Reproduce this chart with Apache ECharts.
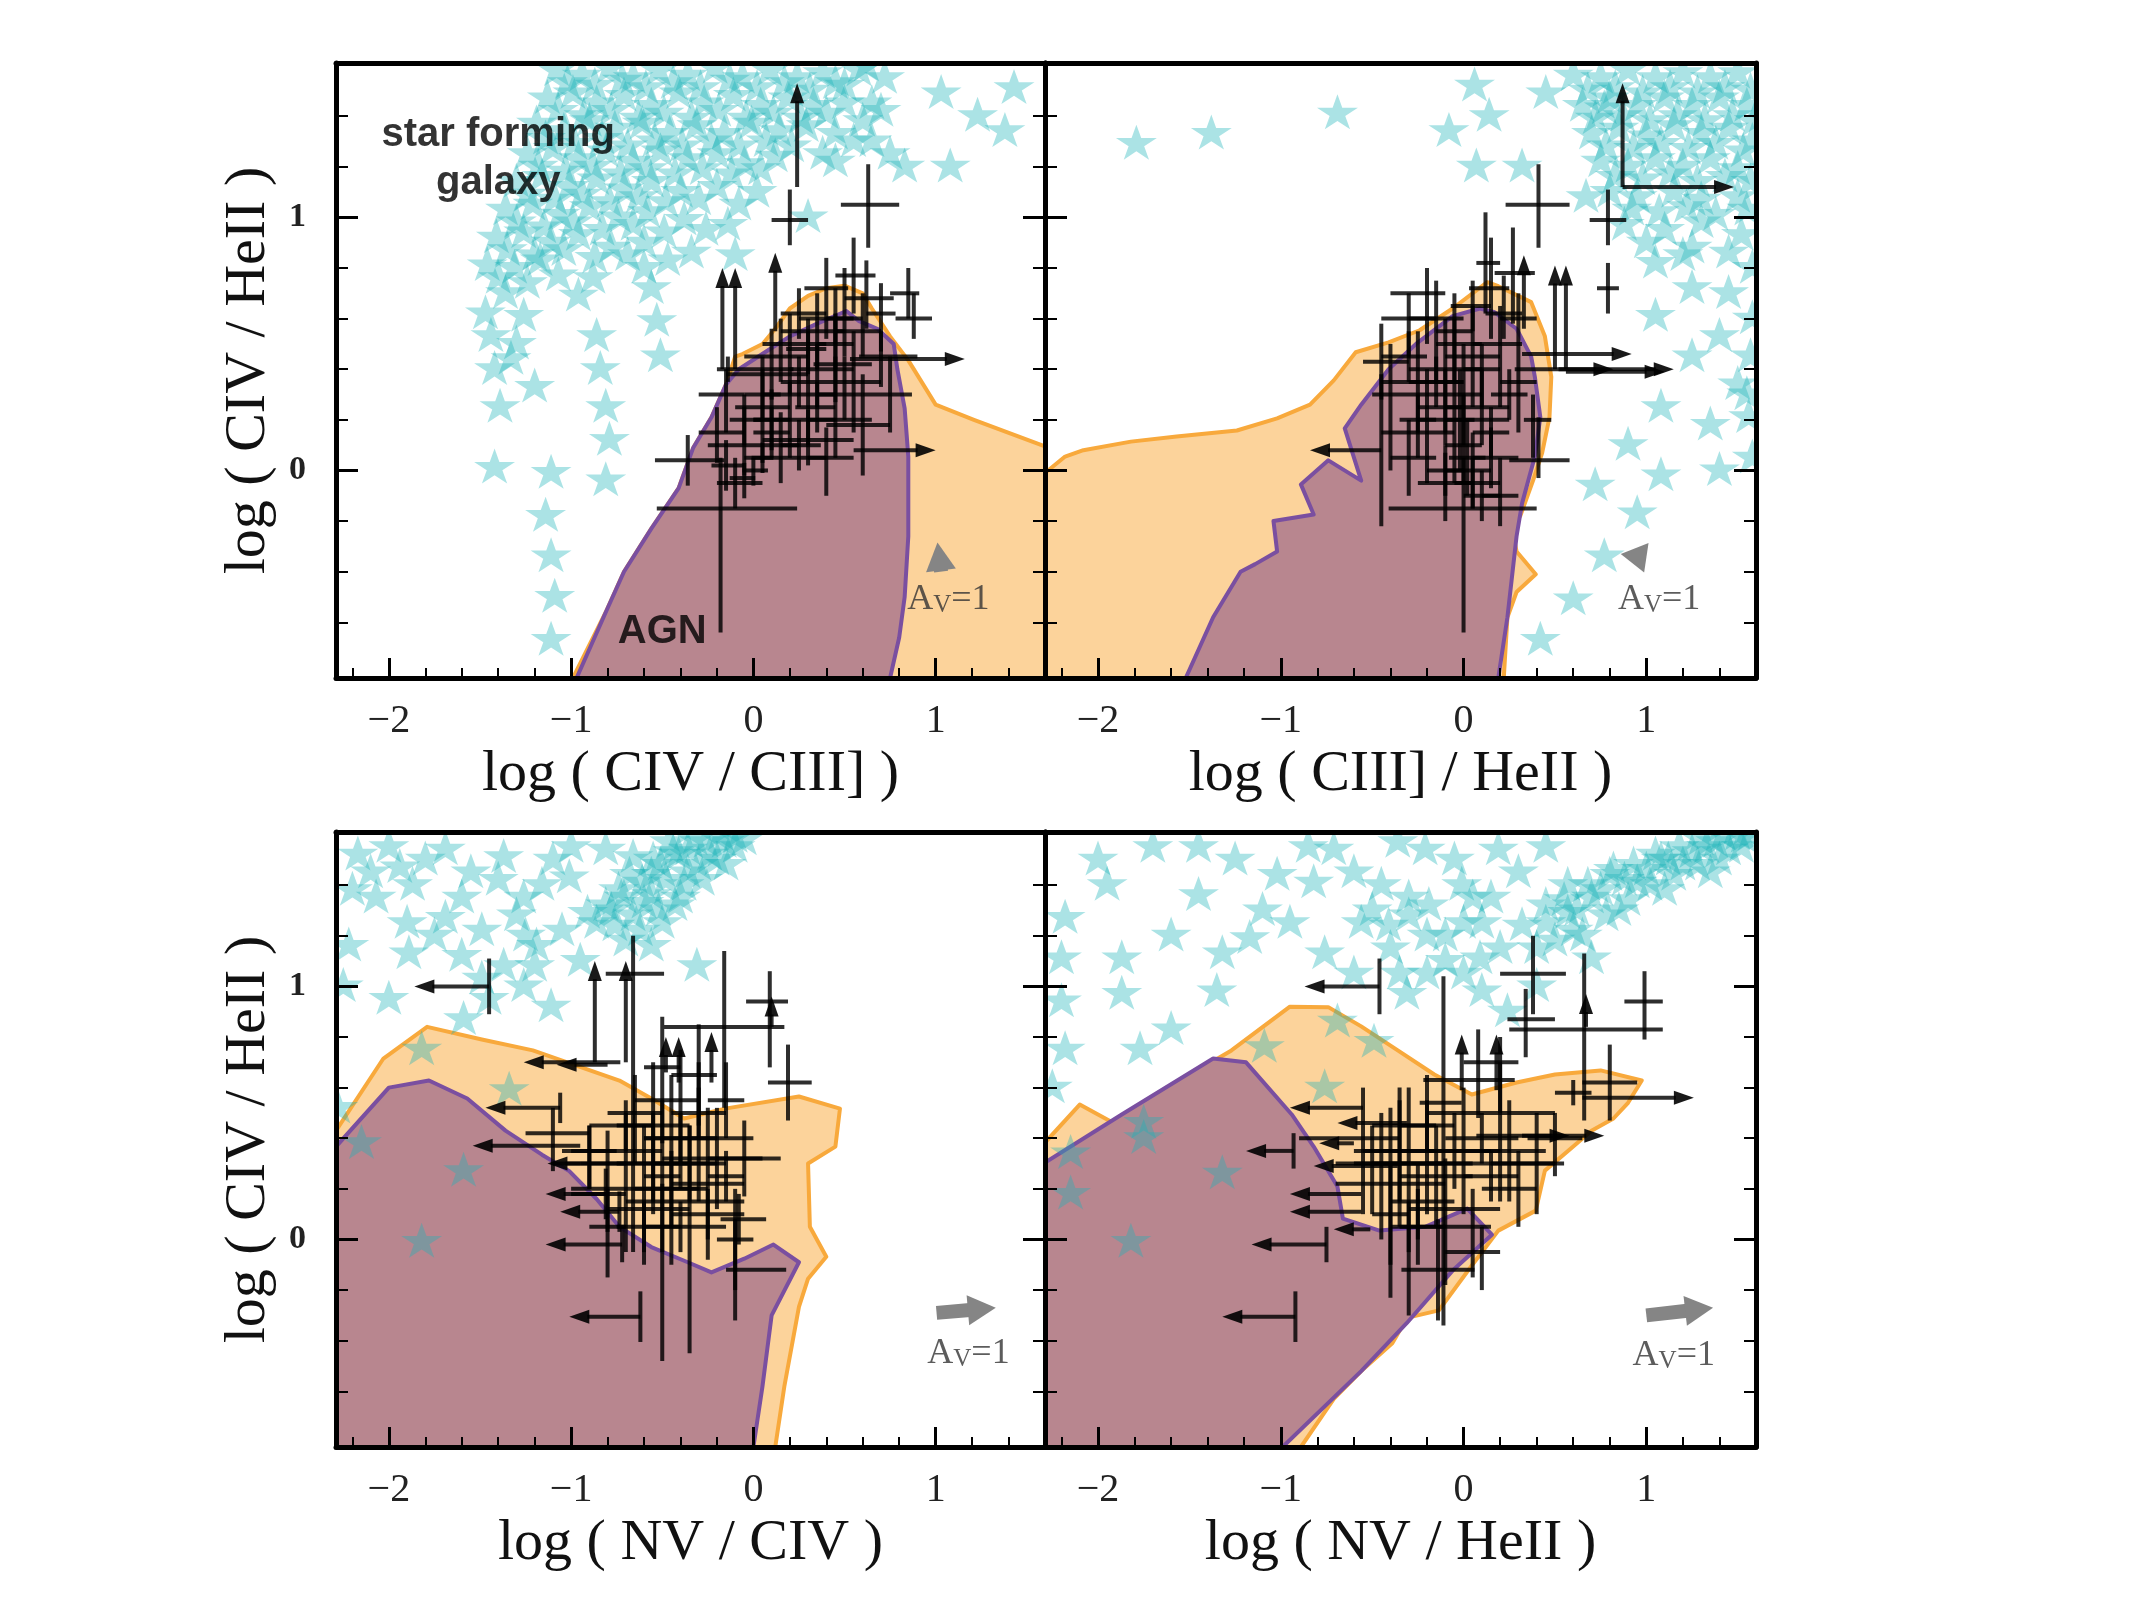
<!DOCTYPE html>
<html>
<head>
<meta charset="utf-8">
<script src="https://cdn.jsdelivr.net/npm/echarts@6/dist/echarts.min.js"></script>
<style>
  html, body { margin: 0; background: #fff; }
  #chart { width: 2134px; height: 1600px; }
</style>
</head>
<body>
<div id="chart"></div>
<script>
// axis extents and tick values (all four panels share them)
const xRange = [-2.29, 1.6]
const yRange = [-0.82, 1.61]
const xMajor = [-2, -1, 0, 1]
const xMinor = [-2.2, -2.0, -1.8, -1.6, -1.4, -1.2, -1.0, -0.8, -0.6, -0.4, -0.2, 0, 0.2, 0.4, 0.6, 0.8, 1.0, 1.2, 1.4]
const yMajor = [0, 1]
const yMinor = [-0.6, -0.4, -0.2, 0, 0.2, 0.4, 0.6, 0.8, 1.0, 1.2, 1.4]

// ---------- panel 1 : log(CIV/CIII]) vs log(CIV/HeII) ----------
const orangeCivCiii = [[-0.99, -0.82], [-0.81, -0.56], [-0.71, -0.4], [-0.56, -0.23], [-0.41, -0.07], [-0.33, 0.09], [-0.23, 0.21], [-0.15, 0.34], [-0.1, 0.45], [-0.06, 0.46], [0.05, 0.5], [0.12, 0.56], [0.2, 0.64], [0.3, 0.69], [0.4, 0.72], [0.5, 0.73], [0.6, 0.7], [0.65, 0.64], [0.75, 0.53], [0.85, 0.435], [1.0, 0.26], [1.21, 0.2], [1.6, 0.095], [1.6, -0.82]]
const purpleCivCiii = [[-0.97, -0.82], [-0.81, -0.56], [-0.71, -0.4], [-0.56, -0.23], [-0.41, -0.07], [-0.33, 0.09], [-0.23, 0.21], [-0.15, 0.34], [-0.08, 0.4], [0.07, 0.47], [0.2, 0.53], [0.35, 0.58], [0.51, 0.63], [0.58, 0.59], [0.68, 0.56], [0.77, 0.5], [0.79, 0.4], [0.83, 0.245], [0.85, 0.055], [0.85, -0.26], [0.83, -0.5], [0.8, -0.66], [0.75, -0.82]]
const starsCivCiii = [
  [-1.08, 1.58], [-0.94, 1.56], [-0.79, 1.59], [-0.66, 1.55], [-0.52, 1.58], [-0.36, 1.56], [-0.21, 1.59], [-0.06, 1.55], [0.09, 1.58], [0.24, 1.55], [0.38, 1.57],
  [-1.02, 1.53], [-0.87, 1.52], [-0.72, 1.54], [-0.59, 1.51], [-0.44, 1.53], [-0.29, 1.51], [-0.13, 1.54], [0.02, 1.51], [0.17, 1.53], [0.31, 1.5], [0.45, 1.53],
  [-1.13, 1.47], [-0.99, 1.49], [-0.86, 1.45], [-0.71, 1.48], [-0.56, 1.44], [-0.41, 1.49], [-0.27, 1.45], [-0.11, 1.48], [0.04, 1.44], [0.19, 1.47], [0.33, 1.44],
  [-1.07, 1.42], [-0.93, 1.4], [-0.78, 1.42], [-0.63, 1.39], [-0.49, 1.41], [-0.34, 1.39], [-0.19, 1.42], [-0.04, 1.39], [0.11, 1.41], [0.26, 1.39], [0.4, 1.41],
  [-1.19, 1.37], [-1.04, 1.34], [-0.9, 1.38], [-0.76, 1.35], [-0.61, 1.37], [-0.46, 1.33], [-0.31, 1.36], [-0.16, 1.33], [-0.01, 1.37], [0.14, 1.34], [0.29, 1.36],
  [-1.14, 1.31], [-0.98, 1.29], [-0.83, 1.31], [-0.69, 1.28], [-0.54, 1.3], [-0.39, 1.28], [-0.23, 1.3], [-0.08, 1.28], [0.07, 1.3], [0.21, 1.28],
  [-1.24, 1.25], [-1.1, 1.27], [-0.96, 1.23], [-0.81, 1.26], [-0.66, 1.22], [-0.51, 1.26], [-0.36, 1.23], [-0.2, 1.25], [-0.05, 1.21], [0.12, 1.24],
  [-1.18, 1.2], [-1.03, 1.18], [-0.88, 1.2], [-0.73, 1.17], [-0.58, 1.19], [-0.43, 1.17], [-0.28, 1.19], [-0.12, 1.17], [0.04, 1.19],
  [-1.3, 1.14], [-1.16, 1.16], [-1.01, 1.12], [-0.86, 1.15], [-0.71, 1.11], [-0.56, 1.14], [-0.4, 1.1], [-0.2, 1.12], [0.02, 1.1],
  [-1.24, 1.09], [-1.09, 1.07], [-0.94, 1.09], [-0.79, 1.06], [-0.63, 1.08], [-0.48, 1.06], [-0.3, 1.07], [-0.08, 1.05],
  [-1.36, 1.03], [-1.21, 1.05], [-1.06, 1.01], [-0.9, 1.04], [-0.74, 1.0], [-0.58, 1.02], [-0.38, 0.99], [-0.14, 0.97],
  [-1.3, 0.98], [-1.15, 0.96], [-0.99, 0.98], [-0.83, 0.95], [-0.66, 0.97], [-0.49, 0.94], [-0.26, 0.95],
  [-1.41, 0.92], [-1.26, 0.94], [-1.11, 0.9], [-0.96, 0.93], [-0.78, 0.88], [-0.6, 0.9], [-0.34, 0.86],
  [-1.35, 0.87], [-1.2, 0.85], [-1.04, 0.87], [-0.87, 0.84], [-0.69, 0.85], [-0.47, 0.83],
  [-1.46, 0.81], [-1.31, 0.8], [-1.17, 0.83], [-0.96, 0.69], [-0.56, 0.72], [-0.6, 0.8], [-1.4, 0.76], [-1.24, 0.74], [-1.07, 0.77], [-0.88, 0.76],
  [-1.44, 0.53], [-1.42, 0.4], [-1.39, 0.25], [-1.42, 0.01], [-1.26, 0.61], [-1.3, 0.5], [-1.2, 0.33], [-1.36, 0.7], [-1.47, 0.62], [-1.33, 0.44],
  [-1.11, -0.01], [-1.14, -0.18], [-1.11, -0.34], [-1.09, -0.5], [-1.11, -0.67],
  [-0.86, 0.53], [-0.84, 0.4], [-0.81, 0.25], [-0.79, 0.12], [-0.81, -0.04], [-0.53, 0.59], [-0.51, 0.45],
  [0.83, 1.2], [1.08, 1.2], [1.03, 1.49], [1.23, 1.4], [1.43, 1.51], [1.38, 1.34], [0.65, 1.45], [0.55, 1.3], [0.72, 1.55], [0.5, 1.52], [0.3, 1.0], [-0.1, 0.85],
  [0.58, 1.58], [0.6, 1.38], [0.45, 1.22], [0.5, 1.45], [0.7, 1.42], [0.65, 1.3], [0.75, 1.25], [0.45, 1.33], [0.62, 1.6], [0.38, 1.25]
]
// [x, y, xErrLeft, xErrRight, yErrDown, yErrUp]
const barsCivCiii = [
  [0.63, 1.05, 0.15, 0.17, 0.17, 0.16], [0.2, 0.99, 0.1, 0.1, 0.1, 0.12], [-0.18, -0.15, 0.35, 0.42, 0.49, 0.2], [-0.36, 0.04, 0.18, 0.2, 0.1, 0.1],
  [0.4, 0.72, 0.12, 0.12, 0.2, 0.12], [0.55, 0.77, 0.1, 0.12, 0.15, 0.15], [0.62, 0.68, 0.12, 0.15, 0.12, 0.15], [0.85, 0.7, 0.1, 0.06, 0.1, 0.1],
  [0.88, 0.6, 0.1, 0.1, 0.08, 0.1], [0.7, 0.45, 0.12, 0.2, 0.12, 0.1], [0.45, 0.42, 0.12, 0.2, 0.15, 0.2], [0.55, 0.35, 0.2, 0.15, 0.2, 0.2],
  [0.3, 0.3, 0.25, 0.15, 0.2, 0.25], [0.1, 0.38, 0.25, 0.2, 0.1, 0.18], [0.2, 0.2, 0.2, 0.25, 0.15, 0.15], [0.05, 0.25, 0.15, 0.15, 0.22, 0.2],
  [-0.05, 0.1, 0.2, 0.3, 0.12, 0.15], [0.15, 0.05, 0.2, 0.25, 0.1, 0.18], [0.3, 0.12, 0.25, 0.25, 0.1, 0.12], [0.45, 0.2, 0.15, 0.2, 0.15, 0.25],
  [0.6, 0.18, 0.2, 0.15, 0.2, 0.2], [0.4, 0.05, 0.1, 0.15, 0.15, 0.12], [-0.1, -0.05, 0.1, 0.15, 0.1, 0.1], [0.0, 0.0, 0.06, 0.08, 0.06, 0.05],
  [-0.15, 0.3, 0.15, 0.1, 0.15, 0.1], [-0.2, 0.15, 0.1, 0.15, 0.12, 0.1], [0.35, 0.55, 0.2, 0.15, 0.15, 0.15], [0.2, 0.5, 0.15, 0.2, 0.2, 0.12],
  [0.75, 0.3, 0.15, 0.12, 0.15, 0.15], [0.5, 0.6, 0.1, 0.1, 0.15, 0.2], [0.1, 0.15, 0.1, 0.1, 0.1, 0.1], [-0.14, 0.4, 0.06, 0.36, 0.05, 0.05],
  [0.25, 0.62, 0.1, 0.15, 0.1, 0.1], [0.45, 0.6, 0.2, 0.1, 0.1, 0.12], [0.6, 0.55, 0.15, 0.1, 0.1, 0.15], [0.15, 0.45, 0.2, 0.15, 0.1, 0.15],
  [0.35, 0.4, 0.15, 0.2, 0.15, 0.1], [0.25, 0.35, 0.1, 0.1, 0.1, 0.1], [0.05, 0.3, 0.1, 0.1, 0.1, 0.1], [0.1, 0.2, 0.1, 0.1, 0.12, 0.12],
  [-0.05, 0.2, 0.08, 0.1, 0.1, 0.1], [0.35, 0.25, 0.12, 0.1, 0.1, 0.1], [0.5, 0.3, 0.15, 0.1, 0.1, 0.15], [0.25, 0.1, 0.1, 0.12, 0.1, 0.1],
  [-0.15, 0.02, 0.08, 0.1, 0.1, 0.1], [-0.05, -0.03, 0.08, 0.06, 0.08, 0.06], [0.05, 0.05, 0.06, 0.06, 0.06, 0.06], [0.45, 0.5, 0.1, 0.1, 0.1, 0.1],
  [0.7, 0.62, 0.08, 0.08, 0.15, 0.12], [0.3, 0.48, 0.12, 0.1, 0.1, 0.12]
]
const upCivCiii = [[-0.17, 0.4, 0.8], [-0.1, 0.4, 0.8], [0.12, 0.55, 0.86], [0.24, 1.12, 1.53]]   // [x, yFrom, yTo]
const rightCivCiii = [[0.53, 0.44, 1.16], [0.55, 0.08, 1.0]]                                     // [xFrom, y, xTo]
const leftCivCiii = []                                                                            // [xFrom, y, xTo, halfBar]
const avCivCiii = [1.03, -0.4, 1.01, -0.285]
const avLabelCivCiii = [1.07, -0.51]

// ---------- panel 2 : log(CIII]/HeII) vs log(CIV/HeII) ----------
const orangeCiiiHeii = [[-2.29, -0.01], [-2.18, 0.055], [-2.08, 0.08], [-1.82, 0.114], [-1.57, 0.134], [-1.24, 0.158], [-1.02, 0.206], [-0.84, 0.26], [-0.71, 0.356], [-0.59, 0.467], [-0.41, 0.506], [-0.24, 0.554], [-0.06, 0.64], [0.13, 0.744], [0.19, 0.728], [0.37, 0.665], [0.445, 0.53], [0.48, 0.37], [0.47, 0.21], [0.43, 0.07], [0.38, -0.04], [0.31, -0.18], [0.26, -0.21], [0.29, -0.32], [0.395, -0.41], [0.29, -0.48], [0.24, -0.58], [0.22, -0.82], [-2.29, -0.82]]
const purpleCiiiHeii = [[-1.52, -0.82], [-1.37, -0.58], [-1.22, -0.4], [-1.14, -0.37], [-1.02, -0.32], [-1.04, -0.2], [-0.82, -0.174], [-0.89, -0.055], [-0.74, 0.04], [-0.56, -0.04], [-0.65, 0.166], [-0.56, 0.26], [-0.41, 0.4], [-0.26, 0.5], [-0.06, 0.61], [0.09, 0.64], [0.17, 0.625], [0.29, 0.56], [0.37, 0.45], [0.39, 0.37], [0.42, 0.21], [0.39, 0.055], [0.32, -0.13], [0.29, -0.26], [0.24, -0.58], [0.19, -0.82]]
const starsCiiiHeii = [
  [-1.79, 1.29], [-1.38, 1.33], [-0.69, 1.41], [0.06, 1.52], [-0.08, 1.34], [0.14, 1.4], [0.45, 1.49], [0.07, 1.2], [0.32, 1.2], [0.67, 1.08], [0.77, 1.43],
  [0.6, 1.56], [0.75, 1.55], [0.9, 1.58], [1.05, 1.55], [1.2, 1.57], [1.35, 1.55], [1.5, 1.57],
  [0.68, 1.5], [0.83, 1.51], [0.98, 1.49], [1.13, 1.51], [1.28, 1.49], [1.43, 1.51], [1.57, 1.5],
  [0.65, 1.44], [0.8, 1.47], [0.95, 1.44], [1.1, 1.47], [1.25, 1.44], [1.4, 1.47], [1.55, 1.44],
  [0.72, 1.39], [0.87, 1.4], [1.02, 1.38], [1.17, 1.4], [1.32, 1.38], [1.47, 1.4], [1.59, 1.38],
  [0.7, 1.33], [0.85, 1.35], [1.0, 1.32], [1.15, 1.36], [1.3, 1.33], [1.45, 1.35], [1.58, 1.3],
  [0.78, 1.28], [0.93, 1.27], [1.08, 1.29], [1.23, 1.27], [1.38, 1.29], [1.53, 1.26],
  [0.75, 1.22], [0.9, 1.2], [1.05, 1.23], [1.2, 1.2], [1.35, 1.23], [1.5, 1.19],
  [0.83, 1.16], [0.98, 1.15], [1.13, 1.17], [1.28, 1.14], [1.43, 1.16], [1.57, 1.14],
  [0.8, 1.1], [0.95, 1.08], [1.15, 1.1], [1.3, 1.07], [1.5, 1.08],
  [0.92, 1.03], [1.07, 1.02], [1.22, 1.04], [1.38, 1.01], [1.55, 1.03],
  [0.88, 0.97], [1.1, 0.95], [1.3, 0.98], [1.52, 0.93], [1.0, 0.9], [1.25, 0.88], [1.45, 0.86],
  [1.05, 0.82], [1.25, 0.72], [1.05, 0.61], [1.4, 0.53], [1.25, 0.45], [1.5, 0.34], [1.08, 0.25], [1.35, 0.18], [0.9, 0.1], [1.08, -0.02],
  [1.4, 0.0], [0.72, -0.06], [0.95, -0.17], [0.77, -0.34], [0.6, -0.51], [0.42, -0.67], [1.56, 0.21], [1.45, 0.7], [1.2, 0.85],
  [1.58, 0.8], [1.58, 0.6], [1.57, 0.45], [1.55, 0.3], [1.58, 0.05]
]
const barsCiiiHeii = [
  [0.41, 1.05, 0.18, 0.17, 0.17, 0.16], [0.79, 0.99, 0.1, 0.1, 0.1, 0.12], [0.79, 0.72, 0.06, 0.06, 0.1, 0.1], [0.0, -0.15, 0.41, 0.4, 0.49, 0.2],
  [0.41, 0.04, 0.16, 0.17, 0.07, 0.17], [0.15, 0.72, 0.12, 0.1, 0.2, 0.2], [0.27, 0.78, 0.1, 0.12, 0.2, 0.18], [0.12, 0.82, 0.05, 0.08, 0.2, 0.2],
  [-0.2, 0.7, 0.2, 0.1, 0.2, 0.1], [-0.15, 0.6, 0.15, 0.15, 0.25, 0.15], [-0.3, 0.6, 0.15, 0.15, 0.15, 0.1], [-0.45, 0.43, 0.1, 0.15, 0.15, 0.15],
  [-0.4, 0.3, 0.1, 0.3, 0.3, 0.2], [-0.25, 0.35, 0.2, 0.25, 0.2, 0.2], [-0.1, 0.4, 0.2, 0.2, 0.25, 0.2], [0.05, 0.45, 0.15, 0.15, 0.2, 0.2],
  [0.2, 0.5, 0.15, 0.12, 0.25, 0.15], [0.3, 0.35, 0.1, 0.1, 0.2, 0.15], [0.38, 0.2, 0.05, 0.1, 0.15, 0.1], [-0.05, 0.2, 0.2, 0.3, 0.25, 0.2],
  [0.1, 0.25, 0.2, 0.15, 0.15, 0.15], [-0.2, 0.15, 0.25, 0.15, 0.2, 0.25], [0.0, 0.1, 0.1, 0.1, 0.15, 0.2], [-0.3, 0.05, 0.1, 0.15, 0.15, 0.15],
  [0.05, 0.0, 0.15, 0.1, 0.15, 0.15], [-0.1, -0.05, 0.15, 0.15, 0.15, 0.12], [0.15, 0.05, 0.1, 0.15, 0.12, 0.12], [0.2, -0.1, 0.1, 0.1, 0.12, 0.15],
  [-0.05, 0.55, 0.1, 0.1, 0.2, 0.15], [0.22, 0.62, 0.1, 0.1, 0.1, 0.15], [0.1, -0.1, 0.1, 0.1, 0.1, 0.1],
  [0.0, 0.3, 0.1, 0.1, 0.2, 0.2], [-0.02, 0.2, 0.08, 0.08, 0.2, 0.2], [0.02, 0.05, 0.1, 0.1, 0.15, 0.15], [-0.15, 0.35, 0.15, 0.15, 0.1, 0.1],
  [0.1, 0.4, 0.1, 0.1, 0.15, 0.1], [-0.1, 0.25, 0.15, 0.1, 0.15, 0.15], [-0.25, 0.2, 0.1, 0.1, 0.15, 0.1], [0.25, 0.3, 0.1, 0.1, 0.1, 0.1],
  [0.15, 0.15, 0.1, 0.1, 0.1, 0.1], [-0.05, 0.5, 0.1, 0.15, 0.1, 0.1], [0.3, 0.6, 0.1, 0.1, 0.1, 0.1], [-0.3, 0.45, 0.15, 0.1, 0.1, 0.1],
  [0.05, 0.65, 0.12, 0.1, 0.1, 0.1], [-0.1, 0.0, 0.1, 0.1, 0.1, 0.1], [0.05, -0.05, 0.1, 0.15, 0.1, 0.1]
]
const upCiiiHeii = [[0.33, 0.56, 0.85], [0.5, 0.4, 0.81], [0.56, 0.4, 0.81], [0.87, 1.12, 1.53]]
const rightCiiiHeii = [[0.32, 0.46, 0.92], [0.28, 0.4, 0.82], [0.52, 0.4, 1.15], [0.56, 0.39, 1.1], [0.87, 1.12, 1.48]]
const leftCiiiHeii = [[-0.45, 0.08, -0.84, 0.3]]
const avCiiiHeii = [1.0, -0.345, 0.86, -0.33]
const avLabelCiiiHeii = [1.07, -0.51]

// ---------- panel 3 : log(NV/CIV) vs log(CIV/HeII) ----------
const orangeNvCiv = [[-2.29, 0.43], [-2.03, 0.715], [-1.79, 0.84], [-1.49, 0.79], [-1.21, 0.747], [-0.735, 0.628], [-0.56, 0.557], [-0.38, 0.478], [-0.155, 0.517], [0.25, 0.565], [0.475, 0.517], [0.45, 0.367], [0.3, 0.3], [0.31, 0.05], [0.4, -0.068], [0.3, -0.155], [0.25, -0.266], [0.17, -0.58], [0.12, -0.82], [-2.29, -0.82]]
const purpleNvCiv = [[-2.29, 0.367], [-2.0, 0.6], [-1.78, 0.628], [-1.57, 0.557], [-1.36, 0.43], [-1.16, 0.335], [-1.01, 0.27], [-0.86, 0.16], [-0.735, 0.05], [-0.56, -0.03], [-0.36, -0.09], [-0.23, -0.13], [-0.05, -0.076], [0.11, -0.02], [0.25, -0.09], [0.1, -0.3], [0.05, -0.58], [0.0, -0.82], [-2.29, -0.82]]
const starsNvCiv = [
  [-2.17, 1.52], [-1.94, 1.47], [-1.69, 1.54], [-2.07, 1.35], [-1.87, 1.4], [-2.22, 1.16], [-1.89, 1.13], [-1.69, 1.27], [-1.37, 1.51], [-1.26, 1.35],
  [-1.49, 1.22], [-1.16, 1.4], [-1.19, 1.16], [-1.01, 1.43], [-0.81, 1.54], [-0.91, 1.29], [-0.76, 1.24], [-0.56, 1.44], [-0.36, 1.54], [-0.16, 1.57],
  [-0.56, 1.16], [-0.43, 1.32], [-0.31, 1.08], [-1.26, 1.0], [-1.11, 0.92], [-1.37, 1.08], [-1.59, 0.87], [-1.49, 1.03], [-1.82, 0.75], [-1.34, 0.59],
  [-2.15, 0.38], [-1.59, 0.27], [-1.82, -0.01], [-2.28, 0.52],
  [-0.71, 1.35], [-0.61, 1.41], [-0.51, 1.48], [-0.41, 1.52], [-0.26, 1.57], [-0.81, 1.32], [-0.66, 1.51], [-0.46, 1.57], [-0.1, 1.59], [-0.56, 1.36],
  [-0.66, 1.28], [-0.5, 1.25], [-0.38, 1.4], [-0.3, 1.48], [-0.2, 1.5],
  [-0.86, 1.25], [-0.78, 1.3], [-0.74, 1.38], [-0.68, 1.44], [-0.6, 1.33], [-0.55, 1.5], [-0.48, 1.42], [-0.44, 1.53], [-0.36, 1.45], [-0.32, 1.58],
  [-0.24, 1.52], [-0.18, 1.6], [-0.1, 1.55], [-0.62, 1.22], [-0.7, 1.18], [-0.52, 1.3], [-0.4, 1.35], [-0.28, 1.42], [-0.15, 1.48], [-0.05, 1.58],
  [-1.05, 1.22], [-0.95, 1.1], [-1.3, 1.28], [-2.0, 1.55], [-1.55, 1.45], [-1.75, 1.2], [-2.2, 1.38], [-1.0, 1.55],
  [-2.1, 1.45], [-1.8, 1.5], [-1.6, 1.35], [-1.4, 1.42], [-1.1, 1.5], [-1.25, 1.2], [-1.6, 1.12], [-1.9, 1.25], [-2.25, 1.0], [-2.0, 0.95],
  [-1.45, 0.95], [-1.2, 1.08]
]
const barsNvCiv = [
  [0.09, 0.94, 0.13, 0.1, 0.26, 0.12], [0.19, 0.62, 0.11, 0.13, 0.15, 0.15], [-0.16, 0.84, 0.33, 0.33, 0.32, 0.3], [-0.66, 1.05, 0.15, 0.17, 1.1, 0.15],
  [-0.5, 0.68, 0.1, 0.1, 0.3, 0.2], [-0.1, -0.12, 0.05, 0.28, 0.2, 0.2], [-0.08, 0.08, 0.1, 0.15, 0.1, 0.1], [-0.1, 0.0, 0.1, 0.1, 0.2, 0.2],
  [-0.4, 0.55, 0.25, 0.1, 0.35, 0.2], [-0.55, 0.45, 0.2, 0.2, 0.3, 0.25], [-0.3, 0.4, 0.3, 0.3, 0.25, 0.3], [-0.7, 0.35, 0.3, 0.2, 0.4, 0.15],
  [-0.45, 0.3, 0.5, 0.25, 0.4, 0.35], [-0.2, 0.32, 0.3, 0.35, 0.2, 0.2], [-0.6, 0.2, 0.4, 0.3, 0.3, 0.25], [-0.35, 0.15, 0.35, 0.3, 0.6, 0.3],
  [-0.5, 0.12, 0.3, 0.15, 0.6, 0.1], [-0.8, 0.18, 0.2, 0.1, 0.15, 0.25], [-0.9, 0.35, 0.15, 0.15, 0.15, 0.1], [-1.1, 0.42, 0.15, 0.2, 0.15, 0.1],
  [-0.9, 0.3, 0.2, 0.2, 0.1, 0.15], [-0.25, 0.22, 0.2, 0.2, 0.3, 0.3], [-0.05, 0.32, 0.2, 0.1, 0.15, 0.15], [-0.4, 0.05, 0.2, 0.25, 0.1, 0.1],
  [-0.8, 0.05, 0.1, 0.1, 0.2, 0.15], [-0.65, 0.5, 0.15, 0.15, 0.2, 0.15], [-0.15, 0.55, 0.1, 0.1, 0.15, 0.15], [-0.3, 0.65, 0.15, 0.1, 0.2, 0.2],
  [-0.55, 0.3, 0.2, 0.2, 0.2, 0.2], [-0.35, 0.3, 0.2, 0.2, 0.15, 0.15], [-0.45, 0.2, 0.2, 0.2, 0.15, 0.15], [-0.25, 0.1, 0.2, 0.2, 0.1, 0.1],
  [-0.6, 0.05, 0.15, 0.2, 0.1, 0.1], [-0.3, 0.5, 0.15, 0.15, 0.1, 0.1], [-0.15, 0.25, 0.1, 0.1, 0.1, 0.1], [-0.7, 0.45, 0.2, 0.15, 0.1, 0.1],
  [-0.4, 0.4, 0.2, 0.2, 0.1, 0.1], [-0.5, 0.25, 0.1, 0.1, 0.3, 0.3]
]
const upNvCiv = [[-0.87, 0.7, 1.1], [-0.7, 0.7, 1.1], [-0.41, 0.62, 0.8], [-0.23, 0.62, 0.82], [0.1, 0.84, 0.96], [-0.48, 0.66, 0.8]]
const rightNvCiv = []
const leftNvCiv = [[-1.45, 1.0, -1.86, 0.11], [-0.73, 0.7, -1.26, 0], [-0.8, 0.69, -1.08, 0], [-1.06, 0.52, -1.47, 0.06], [-0.95, 0.37, -1.54, 0], [-0.95, 0.3, -1.13, 0], [-0.81, 0.18, -1.14, 0.1], [-0.735, 0.11, -1.06, 0.08], [-0.72, -0.02, -1.14, 0.07], [-0.62, -0.305, -1.01, 0.1]]
const avNvCiv = [1.005, -0.29, 1.33, -0.27]
const avLabelNvCiv = [1.18, -0.45]

// ---------- panel 4 : log(NV/HeII) vs log(CIV/HeII) ----------
const orangeNvHeii = [[-2.29, 0.383], [-2.1, 0.533], [-1.92, 0.462], [-1.57, 0.62], [-1.27, 0.747], [-0.95, 0.92], [-0.74, 0.918], [-0.56, 0.842], [-0.36, 0.747], [-0.16, 0.652], [0.045, 0.573], [0.29, 0.62], [0.5, 0.652], [0.75, 0.668], [0.975, 0.628], [0.9, 0.54], [0.82, 0.478], [0.7, 0.43], [0.6, 0.367], [0.445, 0.272], [0.395, 0.114], [0.19, 0.035], [0.04, -0.108], [-0.135, -0.28], [-0.31, -0.31], [-0.39, -0.41], [-0.56, -0.52], [-0.71, -0.63], [-0.89, -0.82], [-2.29, -0.82]]
const purpleNvHeii = [[-2.29, 0.304], [-1.87, 0.494], [-1.37, 0.715], [-1.19, 0.7], [-0.94, 0.494], [-0.82, 0.367], [-0.69, 0.209], [-0.66, 0.082], [-0.46, 0.035], [-0.21, 0.05], [0.02, 0.122], [0.155, 0.019], [-0.06, -0.123], [-0.31, -0.33], [-0.56, -0.52], [-0.99, -0.82], [-2.29, -0.82]]
const starsNvHeii = [
  [-2.18, 1.27], [-2.2, 1.11], [-2.2, 0.94], [-2.18, 0.75], [-1.95, 1.4], [-1.87, 1.11], [-1.87, 0.97], [-1.77, 0.75], [-1.6, 0.83], [-1.7, 1.55],
  [-1.45, 1.55], [-1.45, 1.36], [-1.32, 1.13], [-1.17, 1.19], [-1.02, 1.44], [-0.82, 1.41], [-0.76, 1.13], [-0.71, 1.54], [-0.56, 1.25], [-0.36, 1.57],
  [-0.21, 1.54], [-0.41, 1.24], [-0.31, 0.97], [-0.19, 1.32], [-0.01, 1.4], [0.19, 1.54], [0.09, 1.11], [0.32, 1.24], [0.24, 0.9], [0.57, 1.29], [0.7, 1.11],
  [0.57, 1.4], [0.82, 1.46], [1.08, 1.5], [1.33, 1.55], [1.53, 1.59], [0.7, 1.35], [0.95, 1.41], [1.2, 1.48], [1.45, 1.54], [0.45, 1.32], [0.6, 1.22],
  [0.85, 1.3], [1.1, 1.38], [1.35, 1.45],
  [0.45, 1.25], [0.55, 1.34], [0.62, 1.3], [0.68, 1.4], [0.75, 1.38], [0.8, 1.44], [0.88, 1.42], [0.93, 1.48], [1.0, 1.46], [1.05, 1.52],
  [1.12, 1.5], [1.18, 1.55], [1.25, 1.53], [1.3, 1.58], [1.38, 1.57], [1.42, 1.6], [1.5, 1.6], [1.57, 1.6], [0.65, 1.2], [0.78, 1.28],
  [0.9, 1.34], [1.02, 1.4], [1.15, 1.44], [1.28, 1.48], [1.4, 1.5], [1.52, 1.55], [0.5, 1.18], [0.4, 1.15],
  [-1.09, 0.76], [-0.76, 0.6], [-0.69, 0.86], [-0.49, 0.78], [-1.75, 0.46], [-1.75, 0.4], [-1.32, 0.26], [-2.15, 0.34], [-2.15, 0.18], [-1.82, -0.01],
  [-2.0, 1.5], [-1.25, 1.5], [-0.95, 1.25], [0.0, 1.25], [-0.1, 1.1], [0.15, 1.35], [-2.25, 0.6],
  [-0.6, 1.45], [-0.45, 1.4], [-0.3, 1.35], [-0.05, 1.5], [0.3, 1.45], [-0.85, 1.55], [-1.1, 1.3], [-1.6, 1.2], [-1.35, 0.98], [-0.6, 1.05],
  [0.4, 1.0], [0.1, 0.98], [-0.2, 1.2], [0.45, 1.55],
  [-0.5, 1.3], [-0.4, 1.15], [-0.3, 1.28], [-0.2, 1.05], [-0.1, 1.2], [0.0, 1.05], [0.1, 1.25], [0.2, 1.15], [-0.35, 1.05], [0.05, 1.35]
]
const barsNvHeii = [
  [0.38, 1.05, 0.18, 0.18, 0.16, 0.15], [0.99, 0.94, 0.11, 0.1, 0.15, 0.12], [0.66, 0.83, 0.41, 0.43, 0.36, 0.3], [0.8, 0.62, 0.15, 0.15, 0.15, 0.15],
  [0.6, 0.58, 0.1, 0.1, 0.05, 0.05], [0.34, 0.87, 0.1, 0.16, 0.15, 0.12], [-0.11, 0.54, 0.13, 0.1, 0.88, 0.5], [-0.14, -0.12, 0.2, 0.2, 0.2, 0.2],
  [0.2, 0.5, 0.4, 0.3, 0.35, 0.2], [0.08, 0.63, 0.3, 0.2, 0.15, 0.2], [0.2, 0.7, 0.2, 0.1, 0.2, 0.1], [-0.3, 0.3, 0.2, 0.35, 0.6, 0.3],
  [-0.55, 0.4, 0.35, 0.2, 0.3, 0.2], [-0.2, 0.35, 0.4, 0.4, 0.25, 0.3], [0.0, 0.3, 0.3, 0.5, 0.2, 0.3], [0.3, 0.2, 0.2, 0.1, 0.15, 0.15],
  [0.4, 0.3, 0.25, 0.15, 0.2, 0.2], [-0.4, 0.22, 0.3, 0.3, 0.45, 0.3], [-0.1, 0.12, 0.2, 0.3, 0.3, 0.2], [0.05, 0.05, 0.25, 0.1, 0.2, 0.15],
  [-0.25, 0.05, 0.1, 0.15, 0.15, 0.15], [0.1, -0.05, 0.2, 0.1, 0.15, 0.1], [-0.5, 0.3, 0.2, 0.4, 0.2, 0.15], [0.5, 0.4, 0.15, 0.15, 0.15, 0.1],
  [-0.35, 0.45, 0.15, 0.2, 0.4, 0.15], [0.25, 0.35, 0.15, 0.2, 0.2, 0.2],
  [-0.35, 0.35, 0.2, 0.2, 0.2, 0.2], [-0.15, 0.25, 0.2, 0.2, 0.2, 0.2], [-0.45, 0.3, 0.15, 0.15, 0.3, 0.2], [-0.25, 0.15, 0.15, 0.2, 0.15, 0.15],
  [-0.05, 0.35, 0.15, 0.2, 0.15, 0.15], [0.15, 0.25, 0.15, 0.15, 0.1, 0.1], [-0.2, 0.45, 0.15, 0.15, 0.1, 0.1], [-0.4, 0.1, 0.1, 0.1, 0.2, 0.2],
  [0.1, 0.4, 0.2, 0.2, 0.1, 0.1], [-0.3, 0.05, 0.1, 0.1, 0.1, 0.1]
]
const upNvHeii = [[-0.01, 0.59, 0.81], [0.18, 0.59, 0.81], [0.67, 0.84, 0.97]]
const rightNvHeii = [[0.65, 0.56, 1.26], [0.07, 0.41, 0.58], [0.32, 0.41, 0.77]]
const leftNvHeii = [[-0.46, 1.0, -0.87, 0.11], [-0.92, -0.305, -1.32, 0.1], [-0.75, -0.02, -1.16, 0.07], [-0.55, 0.52, -0.95, 0], [-0.31, 0.46, -0.69, 0], [-0.93, 0.35, -1.19, 0.07], [-0.56, 0.18, -0.95, 0], [-0.56, 0.11, -0.95, 0], [-0.36, 0.29, -0.82, 0], [-0.51, 0.04, -0.71, 0], [-0.6, 0.38, -0.79, 0]]
const avNvHeii = [1.0, -0.3, 1.365, -0.27]
const avLabelNvHeii = [1.15, -0.46]

// text labels
const sfgLabel = [-1.4, 1.23]
const agnLabel = [-0.5, -0.64]

const panels = [
  { grid: { left: 336, top: 63, width: 709, height: 615 }, xName: 'log ( CIV / CIII] )', yName: 'log ( CIV / HeII )',
    orange: orangeCivCiii, purple: purpleCivCiii, stars: starsCivCiii, bars: barsCivCiii, up: upCivCiii, right: rightCivCiii, left: leftCivCiii, av: avCivCiii, avLabel: avLabelCivCiii },
  { grid: { left: 1045, top: 63, width: 711, height: 615 }, xName: 'log ( CIII] / HeII )', yName: '',
    orange: orangeCiiiHeii, purple: purpleCiiiHeii, stars: starsCiiiHeii, bars: barsCiiiHeii, up: upCiiiHeii, right: rightCiiiHeii, left: leftCiiiHeii, av: avCiiiHeii, avLabel: avLabelCiiiHeii },
  { grid: { left: 336, top: 832, width: 709, height: 615 }, xName: 'log ( NV / CIV )', yName: 'log ( CIV / HeII )',
    orange: orangeNvCiv, purple: purpleNvCiv, stars: starsNvCiv, bars: barsNvCiv, up: upNvCiv, right: rightNvCiv, left: leftNvCiv, av: avNvCiv, avLabel: avLabelNvCiv },
  { grid: { left: 1045, top: 832, width: 711, height: 615 }, xName: 'log ( NV / HeII )', yName: '',
    orange: orangeNvHeii, purple: purpleNvHeii, stars: starsNvHeii, bars: barsNvHeii, up: upNvHeii, right: rightNvHeii, left: leftNvHeii, av: avNvHeii, avLabel: avLabelNvHeii }
]

const serif = 'Liberation Serif'
const barStyle = { stroke: 'rgba(0,0,0,0.82)', lineWidth: 4 }
const minus = (v) => (v < 0 ? '\u2212' + Math.abs(v) : String(v))

// arrow: shaft from p0 to p1 plus a filled head at p1 (pixel coords)
function arrowShapes(p0, p1, headLen, headHalf, lineStyle, fill) {
  const dx = p1[0] - p0[0], dy = p1[1] - p0[1]
  const len = Math.hypot(dx, dy) || 1
  const ux = dx / len, uy = dy / len
  const h = Math.min(headLen, len)
  const bx = p1[0] - ux * h, by = p1[1] - uy * h
  const out = []
  if (len > h + 1) {
    out.push({ type: 'line', shape: { x1: p0[0], y1: p0[1], x2: bx + ux * 2, y2: by + uy * 2 }, style: lineStyle })
  }
  out.push({ type: 'polygon', shape: { points: [[p1[0], p1[1]], [bx - uy * headHalf, by + ux * headHalf], [bx + uy * headHalf, by - ux * headHalf]] }, style: { fill } })
  return out
}

const grid = [], xAxis = [], yAxis = [], series = []

panels.forEach((p, i) => {
  grid.push({ ...p.grid, show: false })
  const base = { type: 'value', gridIndex: i, splitLine: { show: false }, z: 10 }
  const line = { show: true, onZero: false, lineStyle: { color: '#000', width: 5 } }
  // x axes: bottom major (labels), bottom minor, top frame
  xAxis.push({ ...base, min: xRange[0], max: xRange[1], position: 'bottom', axisLine: line,
    axisTick: { show: true, inside: true, length: 20, customValues: xMajor, lineStyle: { color: '#000', width: 3 } },
    axisLabel: { show: true, customValues: xMajor, formatter: minus, margin: 23, fontFamily: serif, fontSize: 40, color: '#222' },
    name: p.xName, nameLocation: 'middle', nameGap: 68, nameTextStyle: { fontFamily: serif, fontSize: 58, color: '#111' } })
  xAxis.push({ ...base, min: xRange[0], max: xRange[1], position: 'bottom', axisLine: { show: false, onZero: false },
    axisTick: { show: true, inside: true, length: 10, customValues: xMinor, lineStyle: { color: '#000', width: 2 } },
    axisLabel: { show: false } })
  xAxis.push({ ...base, min: xRange[0], max: xRange[1], position: 'top', axisLine: line, axisTick: { show: false }, axisLabel: { show: false } })
  // y axes: left major, left minor, right major, right minor
  const leftPanel = i % 2 === 0
  yAxis.push({ ...base, min: yRange[0], max: yRange[1], position: 'left', axisLine: line,
    axisTick: { show: true, inside: true, length: 22, customValues: yMajor, lineStyle: { color: '#000', width: 3 } },
    axisLabel: { show: leftPanel, customValues: yMajor, margin: 30, fontFamily: serif, fontWeight: 'bold', fontSize: 34, color: '#222' },
    name: p.yName, nameLocation: 'middle', nameGap: 58, nameTextStyle: { fontFamily: serif, fontSize: 58, color: '#111' } })
  yAxis.push({ ...base, min: yRange[0], max: yRange[1], position: 'left', axisLine: { show: false, onZero: false },
    axisTick: { show: true, inside: true, length: 12, customValues: yMinor, lineStyle: { color: '#000', width: 2 } }, axisLabel: { show: false } })
  yAxis.push({ ...base, min: yRange[0], max: yRange[1], position: 'right', axisLine: line,
    axisTick: { show: true, inside: true, length: 22, customValues: yMajor, lineStyle: { color: '#000', width: 3 } }, axisLabel: { show: false } })
  yAxis.push({ ...base, min: yRange[0], max: yRange[1], position: 'right', axisLine: { show: false, onZero: false },
    axisTick: { show: true, inside: true, length: 12, customValues: yMinor, lineStyle: { color: '#000', width: 2 } }, axisLabel: { show: false } })

  const axes = { xAxisIndex: 3 * i, yAxisIndex: 4 * i }

  // AGN model regions
  const region = (pts, fill, stroke, z) => ({
    type: 'custom', ...axes, clip: true, silent: true, z, data: pts,
    renderItem: (params, api) => {
      if (params.dataIndex !== 0) return null
      return { type: 'polygon', shape: { points: pts.map((q) => api.coord(q)) }, style: { fill, stroke, lineWidth: 4, lineJoin: 'round' } }
    }
  })
  series.push(region(p.orange, '#fcd39b', '#f8a93c', 1))
  series.push(region(p.purple, '#b8868f', '#7a4fa0', 1))

  // star-forming galaxy models
  series.push({
    type: 'custom', ...axes, clip: true, silent: true, z: 2, data: p.stars,
    renderItem: (params, api) => {
      const c = api.coord([api.value(0), api.value(1)])
      const pts = []
      for (let k = 0; k < 10; k++) {
        const a = -Math.PI / 2 + (k * Math.PI) / 5
        const r = k % 2 ? 8.2 : 21.5
        pts.push([c[0] + r * Math.cos(a), c[1] + r * Math.sin(a) * 0.9])
      }
      return { type: 'polygon', shape: { points: pts }, style: { fill: 'rgba(26,180,184,0.37)' } }
    }
  })

  // observed points with error bars
  series.push({
    type: 'custom', ...axes, clip: true, silent: true, z: 3, data: p.bars,
    renderItem: (params, api) => {
      const x = api.value(0), y = api.value(1)
      const l = api.coord([x - api.value(2), y]), r = api.coord([x + api.value(3), y])
      const d = api.coord([x, y - api.value(4)]), u = api.coord([x, y + api.value(5)])
      return { type: 'group', children: [
        { type: 'line', shape: { x1: l[0], y1: l[1], x2: r[0], y2: r[1] }, style: barStyle },
        { type: 'line', shape: { x1: d[0], y1: d[1], x2: u[0], y2: u[1] }, style: barStyle }
      ] }
    }
  })

  // limits: [x0, y0, x1, y1, halfBar]
  const limits = [
    ...p.up.map((a) => [a[0], a[1], a[0], a[2], 0]),
    ...p.right.map((a) => [a[0], a[1], a[2], a[1], 0]),
    ...p.left.map((a) => [a[0], a[1], a[2], a[1], a[3]])
  ]
  series.push({
    type: 'custom', ...axes, clip: true, silent: true, z: 3, data: limits,
    renderItem: (params, api) => {
      const x0 = api.value(0), y0 = api.value(1), bar = api.value(4)
      const p0 = api.coord([x0, y0]), p1 = api.coord([api.value(2), api.value(3)])
      const children = arrowShapes(p0, p1, 20, 7, barStyle, 'rgba(0,0,0,0.9)')
      if (bar > 0) {
        const b0 = api.coord([x0, y0 - bar]), b1 = api.coord([x0, y0 + bar])
        children.push({ type: 'line', shape: { x1: b0[0], y1: b0[1], x2: b1[0], y2: b1[1] }, style: barStyle })
      }
      return { type: 'group', children }
    }
  })

  // reddening vector Av = 1
  series.push({
    type: 'custom', ...axes, clip: true, silent: true, z: 3, data: [p.av],
    renderItem: (params, api) => {
      const p0 = api.coord([api.value(0), api.value(1)]), p1 = api.coord([api.value(2), api.value(3)])
      return { type: 'group', children: arrowShapes(p0, p1, 28, 15, { stroke: '#858585', lineWidth: 14 }, '#858585') }
    }
  })
  series.push({
    type: 'scatter', ...axes, silent: true, z: 4, symbolSize: 1, itemStyle: { color: 'rgba(0,0,0,0)' },
    data: [p.avLabel],
    label: { show: true, position: 'inside', formatter: '{a|A}{v|V}{a|=1}', textBorderWidth: 0,
      rich: { a: { fontFamily: serif, fontSize: 36, color: '#333' }, v: { fontFamily: serif, fontSize: 25, color: '#333', padding: [12, 0, 0, 0] } } }
  })
})

// annotations on the first panel
series.push({
  type: 'scatter', xAxisIndex: 0, yAxisIndex: 0, silent: true, z: 5, symbolSize: 1, itemStyle: { color: 'rgba(0,0,0,0)' },
  data: [sfgLabel],
  label: { show: true, position: 'inside', formatter: 'star forming\ngalaxy', align: 'center', lineHeight: 48, textBorderWidth: 0,
    fontFamily: 'Liberation Sans', fontWeight: 'bold', fontSize: 40, color: '#000' }
})
series.push({
  type: 'scatter', xAxisIndex: 0, yAxisIndex: 0, silent: true, z: 5, symbolSize: 1, itemStyle: { color: 'rgba(0,0,0,0)' },
  data: [agnLabel],
  label: { show: true, position: 'inside', formatter: 'AGN', textBorderWidth: 0, fontFamily: 'Liberation Sans', fontWeight: 'bold', fontSize: 40, color: '#000' }
})

const myChart = echarts.init(document.getElementById('chart'))
myChart.setOption({
  backgroundColor: '#fff',
  animation: false,
  grid,
  xAxis,
  yAxis,
  series
})
</script>
</body>
</html>
